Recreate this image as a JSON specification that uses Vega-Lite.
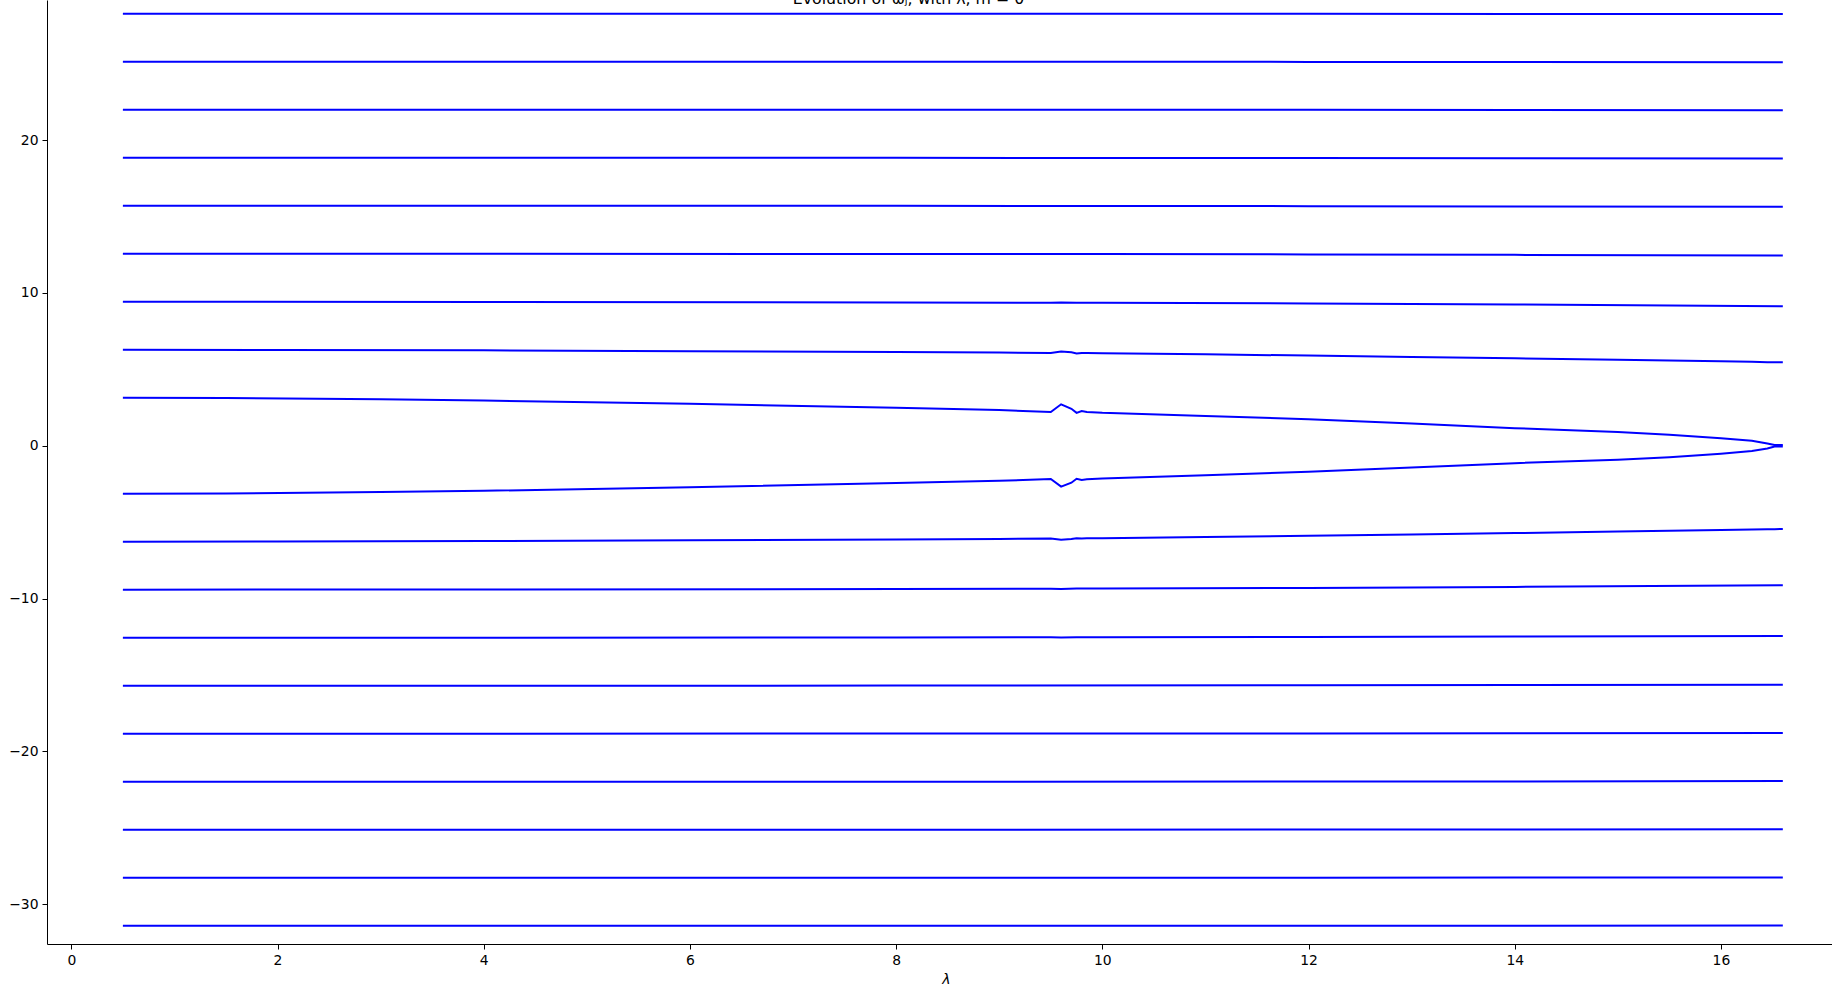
{
  "$schema": "https://vega.github.io/schema/vega-lite/v6.json",
  "width": 1785,
  "height": 944,
  "autosize": {"type": "none"},
  "padding": {"left": 47, "top": 0, "right": 0, "bottom": 49},
  "background": "white",
  "title": {"text": "Evolution of ωⱼ, with λ, m = 0", "font": "DejaVu Sans", "fontSize": 15.8, "fontWeight": "normal", "color": "black", "anchor": "middle", "offset": -8, "dx": -31},
  "config": {
    "view": {"stroke": null},
    "axis": {"domainColor": "black", "domainWidth": 1, "tickColor": "black", "tickWidth": 1, "tickSize": 5, "labelPadding": 4, "labelFont": "DejaVu Sans", "labelFontSize": 13.9, "labelColor": "black", "grid": false, "labelFlush": false, "titleFont": "DejaVu Sans", "titleColor": "black", "titleFontWeight": "normal"}
  },
  "data": {"values": [
    {"mode": 1, "lambda": 0.5, "omega": 3.14}, {"mode": 1, "lambda": 1.5, "omega": 3.12}, {"mode": 1, "lambda": 3, "omega": 3.04}, {"mode": 1, "lambda": 4, "omega": 2.96}, {"mode": 1, "lambda": 6, "omega": 2.74}, {"mode": 1, "lambda": 8, "omega": 2.48}, {"mode": 1, "lambda": 9, "omega": 2.33}, {"mode": 1, "lambda": 9.5, "omega": 2.21}, {"mode": 1, "lambda": 9.6, "omega": 2.71}, {"mode": 1, "lambda": 9.7, "omega": 2.42}, {"mode": 1, "lambda": 9.75, "omega": 2.15}, {"mode": 1, "lambda": 9.8, "omega": 2.27}, {"mode": 1, "lambda": 9.85, "omega": 2.21}, {"mode": 1, "lambda": 10, "omega": 2.15}, {"mode": 1, "lambda": 11, "omega": 1.95}, {"mode": 1, "lambda": 12, "omega": 1.73}, {"mode": 1, "lambda": 13, "omega": 1.46}, {"mode": 1, "lambda": 14, "omega": 1.15}, {"mode": 1, "lambda": 15, "omega": 0.90}, {"mode": 1, "lambda": 15.5, "omega": 0.72}, {"mode": 1, "lambda": 16, "omega": 0.49}, {"mode": 1, "lambda": 16.3, "omega": 0.32}, {"mode": 1, "lambda": 16.45, "omega": 0.15}, {"mode": 1, "lambda": 16.52, "omega": 0.05}, {"mode": 1, "lambda": 16.6, "omega": 0.05},
    {"mode": -1, "lambda": 0.5, "omega": -3.14}, {"mode": -1, "lambda": 1.5, "omega": -3.12}, {"mode": -1, "lambda": 3, "omega": -3.03}, {"mode": -1, "lambda": 4, "omega": -2.95}, {"mode": -1, "lambda": 6, "omega": -2.72}, {"mode": -1, "lambda": 8, "omega": -2.44}, {"mode": -1, "lambda": 9, "omega": -2.30}, {"mode": -1, "lambda": 9.5, "omega": -2.18}, {"mode": -1, "lambda": 9.6, "omega": -2.68}, {"mode": -1, "lambda": 9.7, "omega": -2.42}, {"mode": -1, "lambda": 9.75, "omega": -2.16}, {"mode": -1, "lambda": 9.8, "omega": -2.24}, {"mode": -1, "lambda": 9.85, "omega": -2.20}, {"mode": -1, "lambda": 10, "omega": -2.15}, {"mode": -1, "lambda": 11, "omega": -1.93}, {"mode": -1, "lambda": 12, "omega": -1.70}, {"mode": -1, "lambda": 13, "omega": -1.43}, {"mode": -1, "lambda": 14, "omega": -1.14}, {"mode": -1, "lambda": 15, "omega": -0.92}, {"mode": -1, "lambda": 15.5, "omega": -0.75}, {"mode": -1, "lambda": 16, "omega": -0.52}, {"mode": -1, "lambda": 16.3, "omega": -0.34}, {"mode": -1, "lambda": 16.45, "omega": -0.18}, {"mode": -1, "lambda": 16.52, "omega": -0.05}, {"mode": -1, "lambda": 16.6, "omega": -0.05},
    {"mode": 2, "lambda": 0.5, "omega": 6.28}, {"mode": 2, "lambda": 2, "omega": 6.27}, {"mode": 2, "lambda": 4, "omega": 6.24}, {"mode": 2, "lambda": 6, "omega": 6.19}, {"mode": 2, "lambda": 8, "omega": 6.14}, {"mode": 2, "lambda": 9, "omega": 6.10}, {"mode": 2, "lambda": 9.5, "omega": 6.07}, {"mode": 2, "lambda": 9.6, "omega": 6.17}, {"mode": 2, "lambda": 9.7, "omega": 6.11}, {"mode": 2, "lambda": 9.75, "omega": 6.03}, {"mode": 2, "lambda": 9.8, "omega": 6.07}, {"mode": 2, "lambda": 9.85, "omega": 6.06}, {"mode": 2, "lambda": 10, "omega": 6.05}, {"mode": 2, "lambda": 11, "omega": 5.98}, {"mode": 2, "lambda": 12, "omega": 5.90}, {"mode": 2, "lambda": 13, "omega": 5.81}, {"mode": 2, "lambda": 14, "omega": 5.72}, {"mode": 2, "lambda": 15, "omega": 5.62}, {"mode": 2, "lambda": 15.5, "omega": 5.57}, {"mode": 2, "lambda": 16, "omega": 5.52}, {"mode": 2, "lambda": 16.3, "omega": 5.49}, {"mode": 2, "lambda": 16.45, "omega": 5.47}, {"mode": 2, "lambda": 16.52, "omega": 5.46}, {"mode": 2, "lambda": 16.6, "omega": 5.46},
    {"mode": -2, "lambda": 0.5, "omega": -6.28}, {"mode": -2, "lambda": 2, "omega": -6.27}, {"mode": -2, "lambda": 4, "omega": -6.24}, {"mode": -2, "lambda": 6, "omega": -6.19}, {"mode": -2, "lambda": 8, "omega": -6.14}, {"mode": -2, "lambda": 9, "omega": -6.10}, {"mode": -2, "lambda": 9.5, "omega": -6.07}, {"mode": -2, "lambda": 9.6, "omega": -6.15}, {"mode": -2, "lambda": 9.7, "omega": -6.11}, {"mode": -2, "lambda": 9.75, "omega": -6.05}, {"mode": -2, "lambda": 9.8, "omega": -6.07}, {"mode": -2, "lambda": 9.85, "omega": -6.06}, {"mode": -2, "lambda": 10, "omega": -6.05}, {"mode": -2, "lambda": 11, "omega": -5.98}, {"mode": -2, "lambda": 12, "omega": -5.90}, {"mode": -2, "lambda": 13, "omega": -5.81}, {"mode": -2, "lambda": 14, "omega": -5.72}, {"mode": -2, "lambda": 15, "omega": -5.62}, {"mode": -2, "lambda": 15.5, "omega": -5.57}, {"mode": -2, "lambda": 16, "omega": -5.52}, {"mode": -2, "lambda": 16.3, "omega": -5.49}, {"mode": -2, "lambda": 16.45, "omega": -5.47}, {"mode": -2, "lambda": 16.52, "omega": -5.46}, {"mode": -2, "lambda": 16.6, "omega": -5.45},
    {"mode": 3, "lambda": 0.5, "omega": 9.42}, {"mode": 3, "lambda": 4, "omega": 9.41}, {"mode": 3, "lambda": 8, "omega": 9.38}, {"mode": 3, "lambda": 9.5, "omega": 9.36}, {"mode": 3, "lambda": 9.6, "omega": 9.38}, {"mode": 3, "lambda": 9.75, "omega": 9.35}, {"mode": 3, "lambda": 10, "omega": 9.35}, {"mode": 3, "lambda": 12, "omega": 9.31}, {"mode": 3, "lambda": 14, "omega": 9.24}, {"mode": 3, "lambda": 16.6, "omega": 9.13},
    {"mode": -3, "lambda": 0.5, "omega": -9.42}, {"mode": -3, "lambda": 4, "omega": -9.41}, {"mode": -3, "lambda": 8, "omega": -9.38}, {"mode": -3, "lambda": 9.5, "omega": -9.36}, {"mode": -3, "lambda": 9.6, "omega": -9.38}, {"mode": -3, "lambda": 9.75, "omega": -9.35}, {"mode": -3, "lambda": 10, "omega": -9.35}, {"mode": -3, "lambda": 12, "omega": -9.31}, {"mode": -3, "lambda": 14, "omega": -9.24}, {"mode": -3, "lambda": 16.6, "omega": -9.13},
    {"mode": 4, "lambda": 0.5, "omega": 12.57}, {"mode": 4, "lambda": 4, "omega": 12.56}, {"mode": 4, "lambda": 8, "omega": 12.55}, {"mode": 4, "lambda": 9.5, "omega": 12.54}, {"mode": 4, "lambda": 9.6, "omega": 12.55}, {"mode": 4, "lambda": 9.75, "omega": 12.54}, {"mode": 4, "lambda": 10, "omega": 12.54}, {"mode": 4, "lambda": 12, "omega": 12.52}, {"mode": 4, "lambda": 14, "omega": 12.49}, {"mode": 4, "lambda": 16.6, "omega": 12.45},
    {"mode": -4, "lambda": 0.5, "omega": -12.57}, {"mode": -4, "lambda": 4, "omega": -12.56}, {"mode": -4, "lambda": 8, "omega": -12.55}, {"mode": -4, "lambda": 9.5, "omega": -12.54}, {"mode": -4, "lambda": 9.6, "omega": -12.55}, {"mode": -4, "lambda": 9.75, "omega": -12.54}, {"mode": -4, "lambda": 10, "omega": -12.54}, {"mode": -4, "lambda": 12, "omega": -12.52}, {"mode": -4, "lambda": 14, "omega": -12.49}, {"mode": -4, "lambda": 16.6, "omega": -12.45},
    {"mode": 5, "lambda": 0.5, "omega": 15.71}, {"mode": 5, "lambda": 8, "omega": 15.70}, {"mode": 5, "lambda": 12, "omega": 15.68}, {"mode": 5, "lambda": 14, "omega": 15.66}, {"mode": 5, "lambda": 16.6, "omega": 15.64},
    {"mode": -5, "lambda": 0.5, "omega": -15.71}, {"mode": -5, "lambda": 8, "omega": -15.70}, {"mode": -5, "lambda": 12, "omega": -15.68}, {"mode": -5, "lambda": 14, "omega": -15.66}, {"mode": -5, "lambda": 16.6, "omega": -15.64},
    {"mode": 6, "lambda": 0.5, "omega": 18.85}, {"mode": 6, "lambda": 8, "omega": 18.84}, {"mode": 6, "lambda": 12, "omega": 18.83}, {"mode": 6, "lambda": 14, "omega": 18.82}, {"mode": 6, "lambda": 16.6, "omega": 18.80},
    {"mode": -6, "lambda": 0.5, "omega": -18.85}, {"mode": -6, "lambda": 8, "omega": -18.84}, {"mode": -6, "lambda": 12, "omega": -18.83}, {"mode": -6, "lambda": 14, "omega": -18.82}, {"mode": -6, "lambda": 16.6, "omega": -18.80},
    {"mode": 7, "lambda": 0.5, "omega": 21.99}, {"mode": 7, "lambda": 8, "omega": 21.99}, {"mode": 7, "lambda": 12, "omega": 21.98}, {"mode": 7, "lambda": 14, "omega": 21.97}, {"mode": 7, "lambda": 16.6, "omega": 21.95},
    {"mode": -7, "lambda": 0.5, "omega": -21.99}, {"mode": -7, "lambda": 8, "omega": -21.99}, {"mode": -7, "lambda": 12, "omega": -21.98}, {"mode": -7, "lambda": 14, "omega": -21.97}, {"mode": -7, "lambda": 16.6, "omega": -21.95},
    {"mode": 8, "lambda": 0.5, "omega": 25.13}, {"mode": 8, "lambda": 8, "omega": 25.13}, {"mode": 8, "lambda": 12, "omega": 25.12}, {"mode": 8, "lambda": 14, "omega": 25.12}, {"mode": 8, "lambda": 16.6, "omega": 25.10},
    {"mode": -8, "lambda": 0.5, "omega": -25.13}, {"mode": -8, "lambda": 8, "omega": -25.13}, {"mode": -8, "lambda": 12, "omega": -25.12}, {"mode": -8, "lambda": 14, "omega": -25.12}, {"mode": -8, "lambda": 16.6, "omega": -25.10},
    {"mode": 9, "lambda": 0.5, "omega": 28.27}, {"mode": 9, "lambda": 8, "omega": 28.27}, {"mode": 9, "lambda": 12, "omega": 28.27}, {"mode": 9, "lambda": 14, "omega": 28.26}, {"mode": 9, "lambda": 16.6, "omega": 28.25},
    {"mode": -9, "lambda": 0.5, "omega": -28.27}, {"mode": -9, "lambda": 8, "omega": -28.27}, {"mode": -9, "lambda": 12, "omega": -28.27}, {"mode": -9, "lambda": 14, "omega": -28.26}, {"mode": -9, "lambda": 16.6, "omega": -28.25},
    {"mode": 10, "lambda": 0.5, "omega": 31.42}, {"mode": 10, "lambda": 8, "omega": 31.42}, {"mode": 10, "lambda": 12, "omega": 31.41}, {"mode": 10, "lambda": 14, "omega": 31.41}, {"mode": 10, "lambda": 16.6, "omega": 31.40},
    {"mode": -10, "lambda": 0.5, "omega": -31.42}, {"mode": -10, "lambda": 8, "omega": -31.42}, {"mode": -10, "lambda": 12, "omega": -31.41}, {"mode": -10, "lambda": 14, "omega": -31.41}, {"mode": -10, "lambda": 16.6, "omega": -31.40}
  ]},
  "mark": {"type": "line", "color": "#0000ff", "strokeWidth": 2, "clip": true, "interpolate": "linear"},
  "encoding": {
    "x": {"field": "lambda", "type": "quantitative", "scale": {"domain": [-0.236, 17.077], "nice": false, "zero": false},
      "axis": {"values": [0, 2, 4, 6, 8, 10, 12, 14, 16], "title": "λ", "titleFontSize": 14, "titleFontStyle": "italic", "titleX": 899, "titleY": 35, "titleBaseline": "middle", "titleAlign": "center", "titleAnchor": null}},
    "y": {"field": "omega", "type": "quantitative", "scale": {"domain": [-32.61, 29.17], "nice": false, "zero": false},
      "axis": {"values": [-30, -20, -10, 0, 10, 20], "title": null}},
    "detail": {"field": "mode", "type": "nominal"}
  }
}
